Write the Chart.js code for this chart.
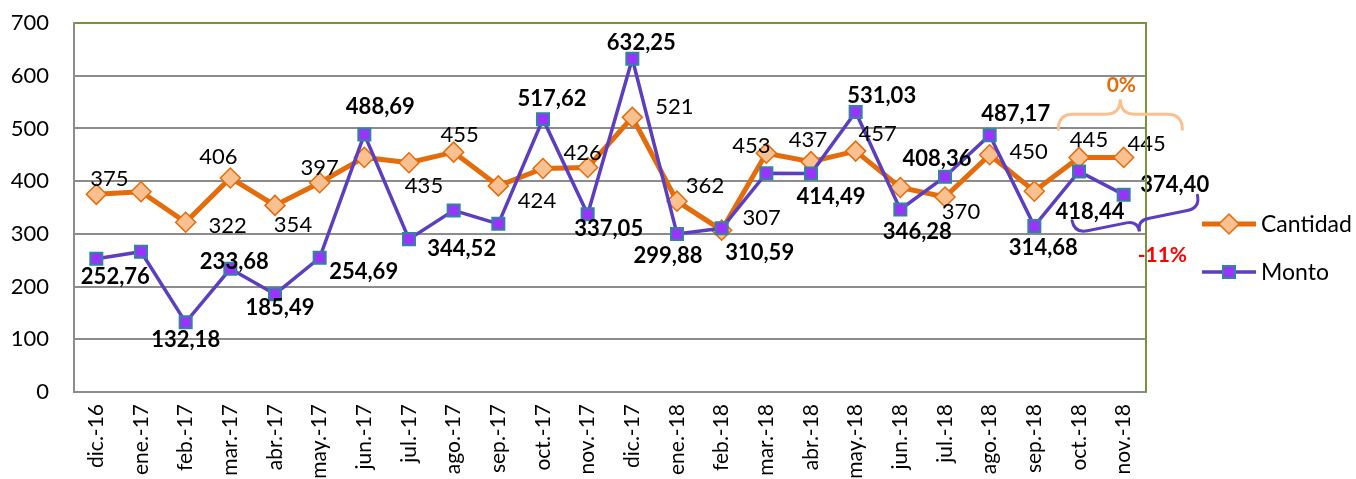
<!DOCTYPE html>
<html>
<head>
<meta charset="utf-8">
<script src="https://cdn.jsdelivr.net/npm/chart.js@4.4.1/dist/chart.umd.min.js"></script>
<style>
  html, body { margin: 0; padding: 0; background: #ffffff; }
  #wrap { width: 1356px; height: 479px; position: relative; }
</style>
</head>
<body>
<div id="wrap"><canvas id="c" width="1356" height="479"></canvas></div>
<script>
// ---- data ----
const categories = ['dic.-16','ene.-17','feb.-17','mar.-17','abr.-17','may.-17','jun.-17','jul.-17','ago.-17','sep.-17','oct.-17','nov.-17',
                    'dic.-17','ene.-18','feb.-18','mar.-18','abr.-18','may.-18','jun.-18','jul.-18','ago.-18','sep.-18','oct.-18','nov.-18'];
const cantidad = [375, 380, 322, 406, 354, 397, 445, 435, 455, 391, 424, 426,
                  521, 362, 307, 453, 437, 457, 388, 370, 450, 381, 445, 445];
const monto = [252.76, 266, 132.18, 233.68, 185.49, 254.69, 488.69, 290, 344.52, 319, 517.62, 337.05,
               632.25, 299.88, 310.59, 415, 414.49, 531.03, 346.28, 408.36, 487.17, 314.68, 418.44, 374.40];
const yTicks = [0, 100, 200, 300, 400, 500, 600, 700];
const seriesNames = ['Cantidad', 'Monto'];
const cambioCantidad = '0%';
const cambioMonto = '-11%';

// label placement (pixel offsets from the point; null = no label)
const cantidadLabelPos = [[13,-15], null, [42,4], [-12,-21], [18,20], [0,-15], null, [15,23], [6,-17], null, [-6,32], [-5,-15],
                          [42,-10], [28,-15], [40,-12], [-15,-7], [-3,-22], [22,-17], null, [16,15], [39,-3], null, [10,-18], [23,-14]];
const montoLabelPos = [[19,18], null, [0,18], [4,-7], [5,14], [44,14], [16,-27], null, [8,39], null, [9,-20], [21,15],
                       [9,-16], [-9,22], [38,25], null, [20,23], [26,-16], [17,22], [-8,-18], [26,-21], [9,22], [11,40], [51,-10]];

const ORANGE = '#E46C0A', ORANGE_LIGHT = '#FAC090';
const PURPLE = '#5B3FC0', PURPLE_FILL = '#9933FF', TEAL = '#31859C';
const GREEN = '#77933C', GRID = '#8C8C8C';
const FONT = 'Lato, "Open Sans", sans-serif';

const fmtMonto = v => v.toFixed(2).replace('.', ',');

const labelPlugin = {
  id: 'pointLabels',
  afterDatasetsDraw(chart) {
    const ctx = chart.ctx;
    const conf = [
      { di: 0, pos: cantidadLabelPos, fmt: v => String(v), font: '400 22px ' + FONT },
      { di: 1, pos: montoLabelPos, fmt: fmtMonto, font: '700 22px ' + FONT }
    ];
    ctx.save();
    ctx.textAlign = 'center';
    ctx.textBaseline = 'middle';
    ctx.fillStyle = '#000';
    conf.forEach(c => {
      const meta = chart.getDatasetMeta(c.di);
      const vals = chart.data.datasets[c.di].data;
      ctx.font = c.font;
      meta.data.forEach((pt, i) => {
        const p = c.pos[i];
        if (!p) return;
        ctx.fillText(c.fmt(vals[i]), pt.x + p[0], pt.y + p[1]);
      });
    });
    ctx.restore();
  }
};

function brace(ctx, cx, cy, angle, L, h, t) {
  // ends at local y = -h, straight part at 0, tip at local y = t
  ctx.save();
  ctx.translate(cx, cy);
  ctx.rotate(angle);
  const e = Math.abs(h), k = Math.abs(t);
  ctx.beginPath();
  ctx.moveTo(-L, -h);
  ctx.quadraticCurveTo(-L, 0, -L + e, 0);
  ctx.lineTo(-k, 0);
  ctx.quadraticCurveTo(0, 0, 0, t);
  ctx.quadraticCurveTo(0, 0, k, 0);
  ctx.lineTo(L - e, 0);
  ctx.quadraticCurveTo(L, 0, L, -h);
  ctx.stroke();
  ctx.restore();
}

const decorPlugin = {
  id: 'decor',
  afterDraw(chart) {
    const ctx = chart.ctx;
    const a = chart.chartArea;
    const xs = chart.scales.x, ys = chart.scales.y;
    ctx.save();
    // right border (green)
    ctx.strokeStyle = GREEN;
    ctx.lineWidth = 2;
    ctx.beginPath();
    ctx.moveTo(a.right, a.top - 1);
    ctx.lineTo(a.right, a.bottom);
    ctx.stroke();

    // orange brace above oct/nov-18
    const xo = (xs.getPixelForValue(22) + xs.getPixelForValue(23)) / 2;
    const yo = ys.getPixelForValue(527);
    ctx.strokeStyle = ORANGE_LIGHT;
    ctx.lineWidth = 3;
    ctx.lineCap = 'round';
    brace(ctx, xo + 19, yo, 0, 62, -15, -15);
    ctx.fillStyle = ORANGE;
    ctx.font = '700 21px ' + FONT;
    ctx.textAlign = 'center';
    ctx.textBaseline = 'middle';
    ctx.fillText(cambioCantidad, xo + 20, ys.getPixelForValue(582));

    // purple brace below oct/nov-18
    const yp = ys.getPixelForValue(325);
    ctx.strokeStyle = PURPLE;
    ctx.lineWidth = 3;
    brace(ctx, xo + 36, yp, -0.2, 64, 13, 11);
    ctx.fillStyle = '#FF0000';
    ctx.fillText(cambioMonto, xo + 61, ys.getPixelForValue(260));

    // legend
    const legendItems = [
      { name: seriesNames[0], y: 224, color: ORANGE, width: 5, style: 'diamond' },
      { name: seriesNames[1], y: 272, color: PURPLE, width: 3.5, style: 'square' }
    ];
    const lx0 = 1202, lx1 = 1256, mx = 1229;
    legendItems.forEach(it => {
      ctx.strokeStyle = it.color;
      ctx.lineWidth = it.width;
      ctx.lineCap = 'butt';
      ctx.beginPath();
      ctx.moveTo(lx0, it.y); ctx.lineTo(lx1, it.y); ctx.stroke();
      ctx.beginPath();
      if (it.style === 'diamond') {
        const r = 10;
        ctx.moveTo(mx - r, it.y); ctx.lineTo(mx, it.y - r); ctx.lineTo(mx + r, it.y); ctx.lineTo(mx, it.y + r); ctx.closePath();
        ctx.fillStyle = ORANGE_LIGHT; ctx.fill();
        ctx.strokeStyle = ORANGE; ctx.lineWidth = 1.5; ctx.stroke();
      } else {
        const s = 6;
        ctx.rect(mx - s, it.y - s, 2 * s, 2 * s);
        ctx.fillStyle = PURPLE_FILL; ctx.fill();
        ctx.strokeStyle = TEAL; ctx.lineWidth = 2; ctx.stroke();
      }
      ctx.fillStyle = '#000';
      ctx.font = '400 23px ' + FONT;
      ctx.textAlign = 'left';
      ctx.textBaseline = 'middle';
      ctx.fillText(it.name, 1261, it.y + 1);
    });
    ctx.restore();
  }
};

new Chart(document.getElementById('c'), {
  type: 'line',
  data: {
    labels: categories,
    datasets: [
      {
        label: seriesNames[0],
        data: cantidad,
        borderColor: ORANGE,
        borderWidth: 5,
        pointStyle: 'rectRot',
        pointRadius: 10,
        pointBackgroundColor: ORANGE_LIGHT,
        pointBorderColor: ORANGE,
        pointBorderWidth: 1.5,
        tension: 0,
        order: 2
      },
      {
        label: seriesNames[1],
        data: monto,
        borderColor: PURPLE,
        borderWidth: 3.5,
        pointStyle: 'rect',
        pointRadius: 8.5,
        pointBackgroundColor: PURPLE_FILL,
        pointBorderColor: TEAL,
        pointBorderWidth: 2,
        tension: 0,
        order: 1
      }
    ]
  },
  options: {
    responsive: false,
    animation: false,
    devicePixelRatio: 1,
    layout: { padding: { top: 23, right: 210, left: 0, bottom: 0 } },
    plugins: { legend: { display: false }, tooltip: { enabled: false } },
    scales: {
      x: {
        offset: true,
        grid: { display: false, drawTicks: false },
        border: { display: true, color: GRID, width: 2 },
        ticks: {
          autoSkip: false, maxRotation: 90, minRotation: 90, padding: 12,
          color: '#000', font: { family: FONT, size: 21 }
        },
        afterFit: s => { s.height = 87; }
      },
      y: {
        min: 0, max: 700,
        afterBuildTicks: s => { s.ticks = yTicks.map(v => ({ value: v })); },
        grid: {
          drawTicks: false,
          color: c => (c.tick && c.tick.value === 700) ? GREEN : GRID,
          lineWidth: 2
        },
        border: { display: true, color: GRID, width: 2 },
        ticks: { padding: 25, color: '#000', font: { family: FONT, size: 22 } },
        afterFit: s => { s.width = 74; s.paddingTop = 12; s.paddingBottom = 12; }
      }
    }
  },
  plugins: [labelPlugin, decorPlugin]
});
</script>
</body>
</html>
